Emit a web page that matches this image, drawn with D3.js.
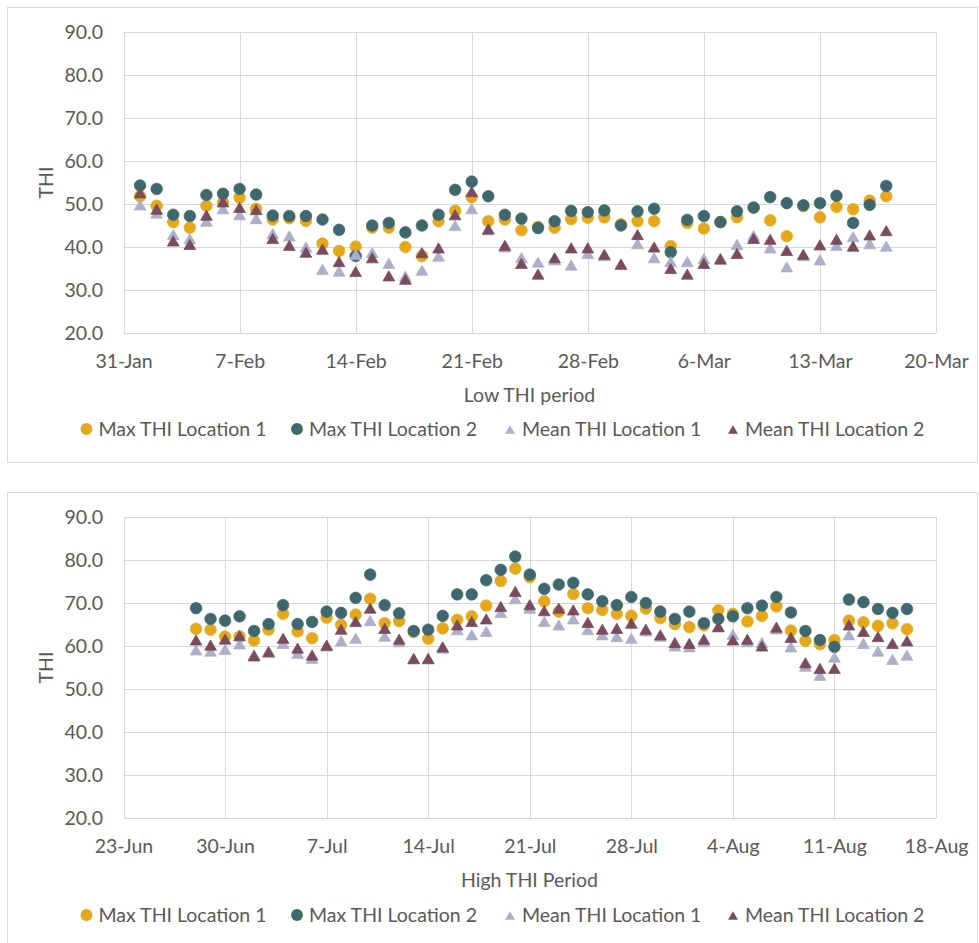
<!DOCTYPE html>
<html>
<head>
<meta charset="utf-8">
<script src="https://cdn.jsdelivr.net/npm/d3@7/dist/d3.min.js"></script>
<style>
  html, body { margin: 0; padding: 0; background: #ffffff; }
  svg { display: block; }
  text { font-family: "Lato", "Open Sans", "DejaVu Sans", sans-serif; fill: #595959; }
</style>
</head>
<body>
<svg id="chart" width="979" height="943"></svg>
<script>
// ---- Series names and colours ----
const seriesNames = ["Max THI Location 1", "Max THI Location 2", "Mean THI Location 1", "Mean THI Location 2"];
const seriesColors = ["#E6A81A", "#3E676E", "#ABAFC9", "#7A4B5E"];
const seriesShapes = ["circle", "circle", "triangle", "triangle"];

// ---- Y axis ticks (shared) ----
const yTicks = [20, 30, 40, 50, 60, 70, 80, 90];

// ---- Low THI period: daily values, 1 Feb - 17 Mar 2020 ----
const lowFirstDay = "2020-02-01";
const lowAxisStart = "2020-01-31";
const lowAxisEnd = "2020-03-20";
const lowMaxL1 = [51.8, 49.6, 45.8, 44.5, 49.6, 50.4, 51.5, 48.9, 46.4, 46.7,
                  46.1, 40.8, 39.1, 40.1, 44.5, 44.5, 40.0, 37.9, 46.0, 48.4,
                  51.6, 46.0, 46.4, 43.9, 44.7, 44.5, 46.5, 46.8, 46.9, 45.3,
                  46.0, 46.0, 40.2, 45.6, 44.3, 45.8, 46.9, 49.1, 46.2, 42.5,
                  49.5, 46.9, 49.3, 48.8, 50.8, 51.8];
const lowMaxL2 = [54.3, 53.5, 47.5, 47.2, 52.1, 52.4, 53.5, 52.2, 47.3, 47.2,
                  47.2, 46.4, 44.0, 37.9, 45.0, 45.6, 43.4, 45.0, 47.5, 53.3,
                  55.2, 51.8, 47.5, 46.6, 44.4, 46.0, 48.4, 48.1, 48.5, 45.0,
                  48.3, 48.9, 38.8, 46.3, 47.2, 45.8, 48.3, 49.2, 51.6, 50.2,
                  49.7, 50.2, 51.9, 45.6, 49.8, 54.2];
const lowMeanL1 = [49.8, 47.9, 42.9, 41.9, 46.0, 48.9, 47.5, 46.6, 43.1, 42.6,
                   40.0, 34.8, 34.4, 38.3, 38.7, 36.2, 33.2, 34.6, 37.9, 45.0,
                   48.9, 44.0, 40.0, 37.5, 36.5, 37.0, 35.8, 38.5, 38.0, 36.0,
                   40.8, 37.5, 36.6, 36.6, 37.3, 37.4, 40.6, 42.7, 39.8, 35.4,
                   38.0, 37.0, 40.4, 42.4, 40.8, 40.2];
const lowMeanL2 = [52.6, 48.8, 41.4, 40.6, 47.4, 50.5, 49.2, 48.7, 42.0, 40.4,
                   38.8, 39.5, 36.6, 34.3, 37.5, 33.3, 32.5, 38.7, 39.8, 47.5,
                   52.9, 44.2, 40.4, 36.2, 33.7, 37.5, 39.8, 39.8, 38.3, 36.0,
                   42.9, 40.0, 35.0, 33.7, 36.2, 37.2, 38.5, 42.0, 41.8, 39.2,
                   38.3, 40.5, 41.8, 40.2, 42.8, 43.8];

// ---- High THI period: daily values, 28 Jun - 16 Aug 2020 ----
const highFirstDay = "2020-06-28";
const highAxisStart = "2020-06-23";
const highAxisEnd = "2020-08-18";
const highMaxL1 = [64.0, 63.8, 62.2, 62.2, 61.3, 63.8, 67.5, 63.4, 61.8, 66.6,
                   64.9, 67.3, 71.0, 65.3, 65.8, 63.2, 61.7, 64.1, 66.1, 66.9,
                   69.4, 75.1, 78.0, 76.0, 70.4, 68.0, 72.1, 68.8, 68.4, 67.5,
                   67.0, 68.7, 66.5, 65.1, 64.4, 64.8, 68.3, 67.5, 65.7, 67.0,
                   69.2, 63.6, 61.2, 60.4, 61.4, 65.9, 65.5, 64.7, 65.3, 63.9];
const highMaxL2 = [68.8, 66.3, 65.9, 66.9, 63.5, 65.1, 69.5, 65.1, 65.6, 68.0,
                   67.7, 71.2, 76.6, 69.5, 67.6, 63.5, 63.8, 67.0, 72.0, 72.0,
                   75.3, 77.7, 80.8, 76.6, 73.3, 74.3, 74.7, 72.0, 70.4, 69.5,
                   71.4, 70.0, 68.0, 66.3, 68.0, 65.3, 66.3, 66.9, 68.8, 69.4,
                   71.4, 67.8, 63.5, 61.4, 59.8, 70.8, 70.2, 68.6, 67.7, 68.6];
const highMeanL1 = [59.1, 58.8, 59.2, 60.5, 58.0, 58.5, 60.6, 58.3, 57.1, 60.0,
                    61.2, 61.8, 65.9, 62.3, 61.0, 57.0, 57.0, 59.5, 63.8, 62.6,
                    63.4, 67.8, 71.0, 68.8, 65.7, 64.9, 66.3, 63.8, 62.6, 62.2,
                    61.8, 63.5, 62.3, 60.0, 59.8, 61.0, 64.5, 62.7, 61.0, 60.8,
                    64.0, 59.8, 55.3, 53.2, 57.4, 62.6, 60.6, 58.8, 56.9, 57.9];
const highMeanL2 = [61.4, 60.2, 61.6, 62.4, 57.7, 58.7, 61.8, 59.5, 57.9, 60.2,
                    63.9, 65.7, 68.8, 64.1, 61.6, 57.1, 57.1, 59.8, 64.9, 65.7,
                    66.3, 69.2, 72.7, 69.6, 68.2, 68.8, 68.4, 65.5, 63.9, 64.1,
                    65.3, 63.9, 62.6, 60.8, 60.6, 61.6, 64.5, 61.4, 61.6, 60.0,
                    64.4, 62.0, 56.1, 54.8, 54.8, 64.9, 63.4, 62.2, 60.6, 61.2];

// ---- Layout ----
const svg = d3.select("#chart");
const parse = d3.utcParse("%Y-%m-%d");
const fmt = d3.utcFormat("%-d-%b");
const gridColor = "#D9D9D9";
const FONT = 19.5;
const FONT_FAMILY = "Lato, 'Open Sans', sans-serif";

function dailyDates(first, n) {
  const start = parse(first);
  return d3.utcDay.range(start, d3.utcDay.offset(start, n));
}

// symbol path plus vertical offset so a triangle's box is centred on the value
function markerOf(shape, area) {
  if (shape === "circle") return { d: d3.symbol(d3.symbolCircle, area)(), dy: 0 };
  const side = Math.sqrt(area * 4 / Math.sqrt(3));
  const h = side * Math.sqrt(3) / 2;
  return { d: d3.symbol(d3.symbolTriangle, area)(), dy: h / 6 };
}

function drawPanel(cfg) {
  const g = svg.append("g");

  // outer frame of the chart
  g.append("rect")
    .attr("x", 7.5).attr("y", cfg.frameTop + 0.5)
    .attr("width", 970).attr("height", cfg.frameHeight)
    .attr("fill", "#fff").attr("stroke", gridColor).attr("stroke-width", 1);

  const x = d3.scaleUtc()
    .domain([parse(cfg.axisStart), parse(cfg.axisEnd)])
    .range([123.5, 936]);
  const y = d3.scaleLinear().domain([20, 90]).range([cfg.plotBottom, cfg.plotTop]);

  const xTicks = d3.utcDay.range(parse(cfg.axisStart), d3.utcDay.offset(parse(cfg.axisEnd), 1), 7);

  // gridlines
  g.append("g").selectAll("line").data(yTicks).join("line")
    .attr("x1", x.range()[0]).attr("x2", x.range()[1])
    .attr("y1", d => Math.round(y(d)) + 0.5).attr("y2", d => Math.round(y(d)) + 0.5)
    .attr("stroke", gridColor).attr("stroke-width", 1);
  g.append("g").selectAll("line").data(xTicks).join("line")
    .attr("x1", d => Math.round(x(d)) + 0.5).attr("x2", d => Math.round(x(d)) + 0.5)
    .attr("y1", y(90)).attr("y2", y(20))
    .attr("stroke", gridColor).attr("stroke-width", 1);

  // y axis labels
  const ya = g.append("g").attr("transform", "translate(103,0)")
    .call(d3.axisLeft(y).tickValues(yTicks).tickFormat(d3.format(".1f")).tickSize(0).tickPadding(0));
  ya.select(".domain").remove();
  ya.selectAll("text").attr("font-size", FONT).attr("fill", "#595959")
    .style("font-family", FONT_FAMILY);

  // x axis labels
  const xa = g.append("g").attr("transform", `translate(0,${cfg.xLabelY})`)
    .call(d3.axisBottom(x).tickValues(xTicks).tickFormat(fmt).tickSize(0).tickPadding(0));
  xa.select(".domain").remove();
  xa.selectAll("text").attr("font-size", FONT).attr("fill", "#595959")
    .attr("dy", "0.32em").attr("y", 0)
    .style("font-family", FONT_FAMILY);

  // axis titles
  g.append("text")
    .attr("transform", `translate(46,${(y(20) + y(90)) / 2}) rotate(-90)`)
    .attr("text-anchor", "middle").attr("dy", "0.35em")
    .attr("font-size", FONT).text("THI");
  g.append("text")
    .attr("x", 529.5).attr("y", cfg.titleY).attr("dy", "0.35em")
    .attr("text-anchor", "middle").attr("font-size", FONT).text(cfg.title);

  // series markers
  const dates = dailyDates(cfg.firstDay, cfg.series[0].length);
  cfg.series.forEach((vals, i) => {
    const m = markerOf(seriesShapes[i], seriesShapes[i] === "circle" ? 105 : 60);
    g.append("g").selectAll("path").data(vals).join("path")
      .attr("d", m.d)
      .attr("transform", (v, j) => `translate(${x(dates[j])},${y(v) + m.dy})`)
      .attr("fill", seriesColors[i])
      .attr("stroke", seriesColors[i])
      .attr("stroke-width", 0.75);
  });

  // legend
  const legendX = [86.5, 297, 510, 733];
  const lg = g.append("g").attr("transform", `translate(0,${cfg.legendY})`);
  seriesNames.forEach((name, i) => {
    const m = markerOf(seriesShapes[i], seriesShapes[i] === "circle" ? 110 : 42);
    lg.append("path")
      .attr("d", m.d)
      .attr("transform", `translate(${legendX[i]},${m.dy + (seriesShapes[i] === "circle" ? 0 : 0.5)})`)
      .attr("fill", seriesColors[i]);
    lg.append("text")
      .attr("x", legendX[i] + 12).attr("y", 0).attr("dy", "0.35em")
      .attr("font-size", FONT).text(name);
  });
}

drawPanel({
  frameTop: 7, frameHeight: 455,
  plotTop: 32, plotBottom: 333,
  axisStart: lowAxisStart, axisEnd: lowAxisEnd,
  firstDay: lowFirstDay,
  xLabelY: 362, titleY: 395, legendY: 429,
  title: "Low THI period",
  series: [lowMaxL1, lowMaxL2, lowMeanL1, lowMeanL2]
});

drawPanel({
  frameTop: 492, frameHeight: 470,
  plotTop: 517, plotBottom: 818,
  axisStart: highAxisStart, axisEnd: highAxisEnd,
  firstDay: highFirstDay,
  xLabelY: 847, titleY: 880, legendY: 915,
  title: "High THI Period",
  series: [highMaxL1, highMaxL2, highMeanL1, highMeanL2]
});
</script>
</body>
</html>
